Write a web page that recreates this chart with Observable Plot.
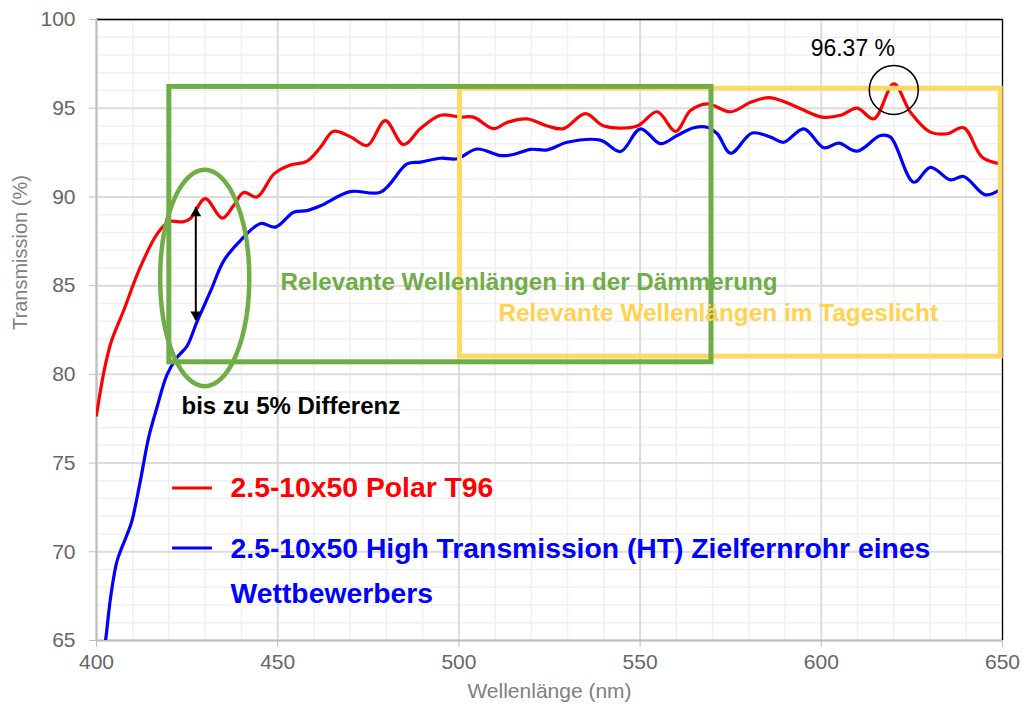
<!DOCTYPE html>
<html>
<head>
<meta charset="utf-8">
<script src="https://cdn.jsdelivr.net/npm/d3@7"></script>
<script src="https://cdn.jsdelivr.net/npm/@observablehq/plot@0.6"></script>
<style>
  html, body { margin: 0; padding: 0; background: #fff; }
  #chart { width: 1023px; height: 710px; }
</style>
</head>
<body>
<div id="chart"></div>
<script>
// ---- Data ----
const redNm = [400, 402, 404, 407.5, 412, 416.7, 420, 424, 426, 430, 434.7, 437.8, 440.6, 444.3, 449, 453.5, 458, 461.8, 465.4, 470, 474.7, 479.7, 484.7, 489.4, 494.9, 500.4, 504, 509.6, 513.3, 518.8, 524.4, 528.9, 534.9, 540, 549.2, 554.7, 559.8, 563.9, 568.5, 575, 580.5, 585.5, 590, 594.3, 600.3, 605.3, 609.9, 614.5, 620, 624.6, 630.1, 634.7, 639.3, 644.4, 650];
const redT  = [77.7, 80.1, 81.8, 83.6, 86.0, 87.9, 88.6, 88.6, 88.8, 89.9, 88.8, 89.5, 90.25, 90.0, 91.3, 91.8, 92.0, 92.8, 93.7, 93.4, 92.9, 94.3, 92.95, 93.85, 94.6, 94.5, 94.5, 93.85, 94.2, 94.4, 94.0, 93.85, 94.7, 94.0, 94.0, 94.8, 93.7, 94.87, 95.25, 94.8, 95.34, 95.6, 95.35, 94.97, 94.5, 94.6, 95.0, 94.4, 96.37, 94.77, 93.65, 93.56, 93.9, 92.24, 91.85];

const blueNm = [400, 402.5, 403.9, 405.7, 408.5, 409.8, 412.1, 414.4, 416.7, 419.5, 422.3, 425, 427.8, 431.5, 435.1, 439.7, 445.3, 449.4, 454.4, 458.1, 461.8, 470, 478.4, 485.7, 489.4, 494.9, 499.5, 505, 511.5, 515.1, 519.8, 524.4, 529.9, 539, 544.6, 550.1, 555.6, 560.2, 564.8, 568.5, 571.3, 575, 580.9, 586, 589.6, 595.2, 600.7, 604.8, 609.9, 616.3, 619.1, 625.5, 630.1, 635.6, 639.3, 645.3, 650];
const blueT  = [61.5, 65.0, 67.44, 69.5, 71.0, 71.76, 74.0, 76.45, 78.15, 80.0, 80.97, 81.6, 83.0, 84.7, 86.4, 87.54, 88.5, 88.3, 89.14, 89.23, 89.5, 90.3, 90.27, 91.86, 91.96, 92.18, 92.15, 92.7, 92.33, 92.39, 92.68, 92.65, 93.08, 93.2, 92.56, 93.84, 93.0, 93.46, 93.9, 93.93, 93.56, 92.46, 93.6, 93.37, 93.08, 93.84, 92.77, 93.03, 92.58, 93.46, 93.37, 90.83, 91.67, 90.96, 91.15, 90.12, 90.5];

const seriesNames = ["2.5-10x50 Polar T96", "2.5-10x50 High Transmission (HT) Zielfernrohr eines", "Wettbewerbers"];
const xTicks = [400, 450, 500, 550, 600, 650];
const yTicks = [65, 70, 75, 80, 85, 90, 95, 100];
const xLabel = "Wellenlänge (nm)";
const yLabel = "Transmission (%)";

// annotation values (data units)
const greenBox = [{x1: 420.1, x2: 569.7, y1: 80.68, y2: 96.2}];
const yellowBox = [{x1: 500.3, x2: 649.5, y1: 81.0, y2: 96.1}];
const greenText = ["Relevante Wellenlängen in der Dämmerung"];
const yellowText = ["Relevante Wellenlängen im Tageslicht"];
const diffText = ["bis zu 5% Differenz"];
const peakText = ["96.37 %"];
const peakAt = [{x: 620, y: 96.03}];
const arrowAt = [{x: 427.4, top: 89.42, bottom: 83.03}];
const ellipseAt = [{x: 430, y: 85.4, rx: 12.3, ry: 6.1}];

// ---- Build tables ----
const red = redNm.map((d, i) => ({nm: d, t: redT[i]}));
const blue = blueNm.map((d, i) => ({nm: d, t: blueT[i]}));

const minorX = d3.range(400, 651, 10);
const minorY = d3.range(65, 101, 1);

const GREEN = "#70AD47";
const YELLOW = "#FFD966";
const YELLOW_TEXT = "#FFD24F";

const ellipseMark = (index, scales) => {
  const g = document.createElementNS("http://www.w3.org/2000/svg", "g");
  for (const e of ellipseAt) {
    const el = document.createElementNS("http://www.w3.org/2000/svg", "ellipse");
    const cx = scales.x(e.x), cy = scales.y(e.y);
    el.setAttribute("cx", cx);
    el.setAttribute("cy", cy);
    el.setAttribute("rx", Math.abs(scales.x(e.x + e.rx) - cx));
    el.setAttribute("ry", Math.abs(scales.y(e.y + e.ry) - cy));
    el.setAttribute("fill", "none");
    el.setAttribute("stroke", GREEN);
    el.setAttribute("stroke-width", 4.5);
    g.appendChild(el);
  }
  return g;
};

const chart = Plot.plot({
  width: 1023,
  height: 710,
  marginLeft: 96,
  marginRight: 21,
  marginTop: 19,
  marginBottom: 70,
  style: {fontFamily: "'Liberation Sans', Arial, sans-serif", fontSize: "21px", background: "#fff", overflow: "visible"},
  x: {domain: [400, 650], label: null},
  y: {domain: [65, 100], label: null},
  marks: [
    // minor grid
    Plot.ruleX(minorX, {stroke: "#f0f0f0", strokeWidth: 1.5}),
    Plot.ruleY(minorY, {stroke: "#f0f0f0", strokeWidth: 1.5}),
    // major grid
    Plot.ruleX(xTicks, {stroke: "#dcdcdc", strokeWidth: 2}),
    Plot.ruleY(yTicks, {stroke: "#dcdcdc", strokeWidth: 2}),
    // axes
    Plot.axisX({ticks: xTicks, tickSize: 7, tickPadding: 7, stroke: "#bfbfbf", fill: "#666", fontSize: 21, label: null}),
    Plot.axisY({ticks: yTicks, tickSize: 7, tickPadding: 14, stroke: "#bfbfbf", fill: "#666", fontSize: 21, label: null}),
    Plot.text([xLabel], {frameAnchor: "bottom", dy: 57, fill: "#808080", fontSize: 21}),
    Plot.text([yLabel], {frameAnchor: "left", rotate: -90, dx: -76, fill: "#808080", fontSize: 20}),
    // frame
    Plot.ruleY([100], {stroke: "#000", strokeWidth: 1.5}),
    Plot.ruleX([650], {stroke: "#000", strokeWidth: 1.2}),
    Plot.ruleX([400], {stroke: "#bfbfbf", strokeWidth: 2}),
    Plot.ruleY([65], {stroke: "#bfbfbf", strokeWidth: 2}),
    // series
    Plot.line(red, {x: "nm", y: "t", stroke: "#FF0000", strokeWidth: 3.2, curve: "catmull-rom", clip: true}),
    Plot.line(blue, {x: "nm", y: "t", stroke: "#0000FF", strokeWidth: 3.2, curve: "catmull-rom", clip: true}),
    // rectangles
    Plot.rect(yellowBox, {x1: "x1", x2: "x2", y1: "y1", y2: "y2", fill: "none", stroke: YELLOW, strokeWidth: 5}),
    Plot.rect(greenBox, {x1: "x1", x2: "x2", y1: "y1", y2: "y2", fill: "none", stroke: GREEN, strokeWidth: 5}),
    ellipseMark,
    // arrow
    Plot.ruleX(arrowAt, {x: "x", y1: "top", y2: "bottom", stroke: "#000", strokeWidth: 2}),
    Plot.dot(arrowAt, {x: "x", y: "top", symbol: "triangle", r: 4, fill: "#000", stroke: null, dy: 6}),
    Plot.dot(arrowAt, {x: "x", y: "bottom", symbol: "triangle", r: 4, fill: "#000", stroke: null, dy: -6, rotate: 180}),
    // peak circle & label
    Plot.dot(peakAt, {x: "x", y: "y", r: 24.5, fill: "none", stroke: "#000", strokeWidth: 1.5}),
    Plot.text(peakText, {x: () => 608.7, y: () => 98.35, fontSize: 23, fill: "#000"}),
    // texts
    Plot.text(greenText, {x: () => 450.8, y: () => 85.17, textAnchor: "start", fontSize: 24.2, fontWeight: "bold", fill: GREEN}),
    Plot.text(yellowText, {x: () => 510.9, y: () => 83.43, textAnchor: "start", fontSize: 24.4, fontWeight: "bold", fill: YELLOW_TEXT}),
    Plot.text(diffText, {x: () => 423.45, y: () => 78.18, textAnchor: "start", fontSize: 24, fontWeight: "bold", fill: "#000"}),
    // legend
    Plot.ruleY([73.6], {x1: 421, x2: 432, stroke: "#FF0000", strokeWidth: 3}),
    Plot.ruleY([70.22], {x1: 421, x2: 432, stroke: "#0000FF", strokeWidth: 3}),
    Plot.text([seriesNames[0]], {x: () => 437, y: () => 73.6, textAnchor: "start", fontSize: 28.3, fontWeight: "bold", fill: "#FF0000"}),
    Plot.text([seriesNames[1]], {x: () => 437, y: () => 70.18, textAnchor: "start", fontSize: 28.3, fontWeight: "bold", fill: "#0000FF"}),
    Plot.text([seriesNames[2]], {x: () => 437, y: () => 67.64, textAnchor: "start", fontSize: 28.3, fontWeight: "bold", fill: "#0000FF"})
  ]
});
document.getElementById("chart").appendChild(chart);
</script>
</body>
</html>
